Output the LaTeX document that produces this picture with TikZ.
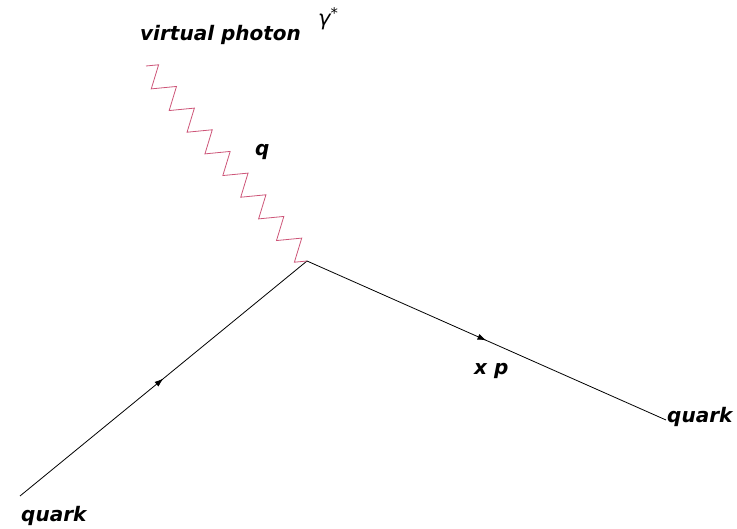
\documentclass[tikz,border=0pt]{standalone}
\usepackage{fontspec}
\setmainfont{DejaVu Sans}
\usetikzlibrary{calc,decorations.markings,arrows.meta}
\definecolor{photoncol}{RGB}{205,85,120}
\tikzset{
  lbl/.style={anchor=base west,inner sep=0pt,font=\fontsize{20}{24}\selectfont\bfseries\itshape},
  fermion/.style={draw=black,line width=0.8pt,postaction={decorate},
    decoration={markings,mark=at position #1 with {\arrow{Latex[length=9pt,width=6pt]}}}},
  photon/.style={draw=photoncol,line width=0.8pt,line join=miter}
}
\begin{document}
\begin{tikzpicture}[x=1pt,y=-1pt]
\useasboundingbox (0,0) rectangle (737,529);
\coordinate (vtx) at (307,261);
\coordinate (qin) at (20,496);
\coordinate (qout) at (666,420);
\coordinate (gam) at (146,66);
\draw[fermion=0.5] (qin) -- (vtx);
\draw[fermion=0.5] (vtx) -- (qout);
\draw[photon] (gam)
  \foreach \j [evaluate=\j as \t using {(\j+0.5)/18},
               evaluate=\j as \ox using {(1-2*mod(\j,2))*8.14},
               evaluate=\j as \oy using {(2*mod(\j,2)-1)*6.64}] in {0,...,17}
  { -- ($(gam)!\t!(vtx) + (\ox,\oy)$) } -- (vtx);
\node[lbl] (vp) at (140,41) {virtual photon};
\node[lbl,font=\fontsize{21}{24}\selectfont\itshape] (g) at (318,26) {γ\textsuperscript{*}};
\node[lbl] (q) at (255,156) {q};
\node[lbl] (xp) at (474,375) {x p};
\node[lbl] (qr) at (667,423) {quark};
\node[lbl] (ql) at (21,521) {quark};
\end{tikzpicture}
\end{document}
